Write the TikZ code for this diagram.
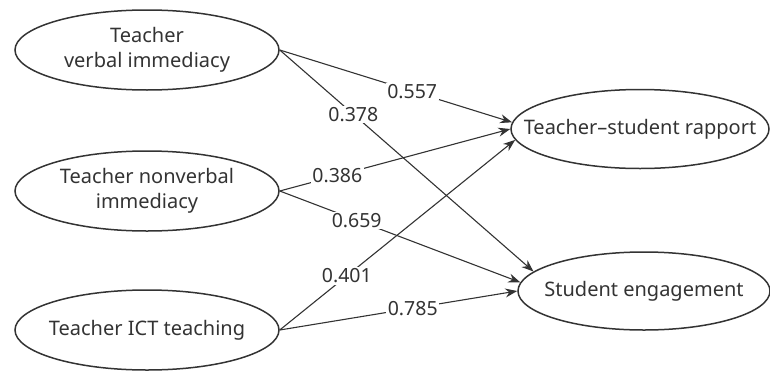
\documentclass[tikz,border=0pt]{standalone}
\usepackage{fontspec}
\setmainfont{Noto Sans}
\usetikzlibrary{shapes.geometric,arrows.meta}
\definecolor{inkgray}{HTML}{333333}
\tikzset{
  latent/.style={draw=inkgray,line width=1.5pt,ellipse,minimum width=264pt,minimum height=80pt,
    align=center,text=inkgray,font=\fontsize{20}{25}\selectfont,inner xsep=-40pt,inner ysep=0pt},
  path/.style={draw=inkgray,line width=1.1pt,-{Stealth[length=12pt,width=9pt]}},
  coef/.style={fill=white,text=inkgray,inner sep=1.5pt,font=\fontsize{19.5}{22}\selectfont}
}
\begin{document}
\begin{tikzpicture}[x=1pt,y=-1pt]
\useasboundingbox (0,0) rectangle (770,372);
\node[latent] (verbal) at (147,50) {Teacher\\verbal immediacy};
\node[latent] (nonverbal) at (147,191) {Teacher nonverbal\\immediacy};
\node[latent] (ict) at (147,330) {Teacher ICT teaching};
\node[latent,minimum width=258pt,minimum height=79pt] (rapport) at (640,129) {Teacher--student rapport};
\node[latent,minimum width=252pt,minimum height=78pt] (engage) at (644,291) {Student engagement};
% paths
\draw[path] (verbal.east) -- node[coef,pos=0.57] {0.557} (rapport.177);
\draw[path] (verbal.east) -- node[coef,pos=0.29] {0.378} (engage.170);
\draw[path] (nonverbal.east) -- node[coef,pos=0.25] {0.386} (rapport.180);
\draw[path] (nonverbal.east) -- node[coef,pos=0.32] {0.659} (engage.176);
\draw[path] (ict.east) -- node[coef,pos=0.285] {0.401} (rapport.185);
\draw[path] (ict.east) -- node[coef,pos=0.56] {0.785} (engage.180);
\end{tikzpicture}
\end{document}
